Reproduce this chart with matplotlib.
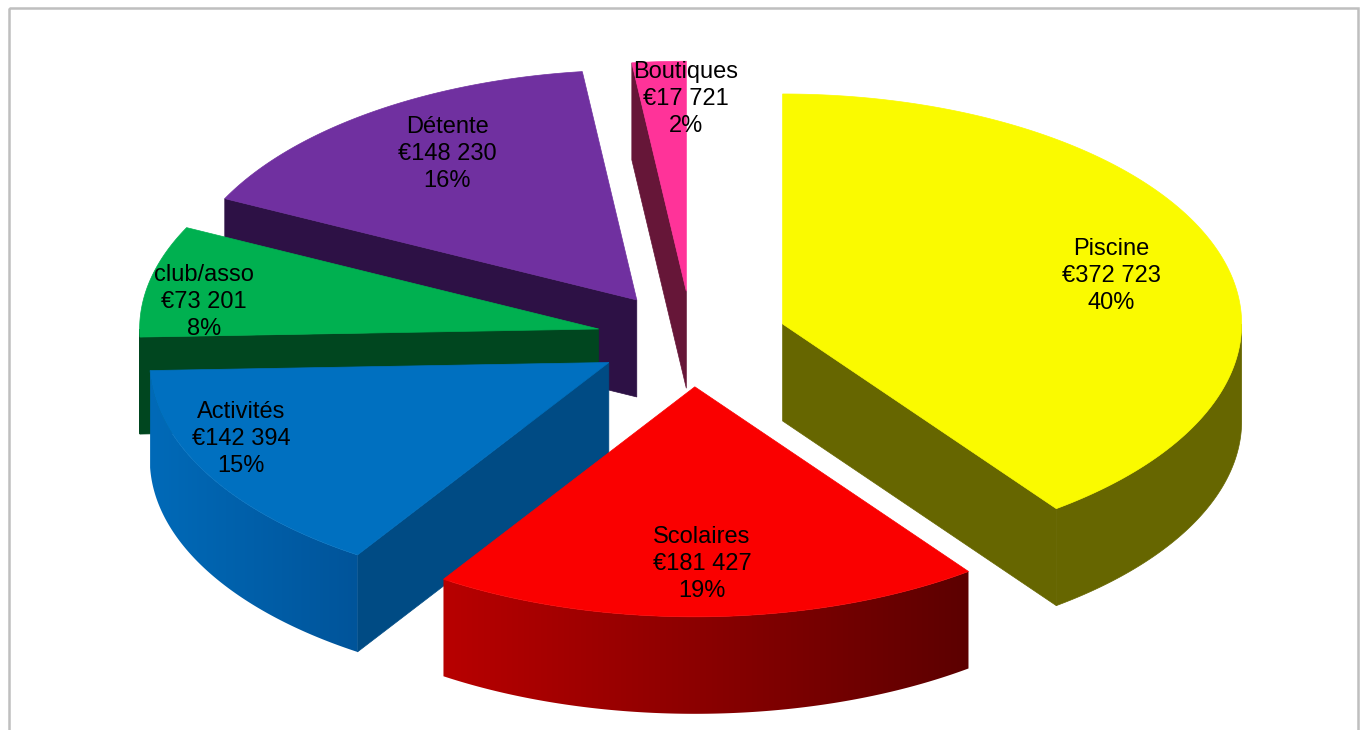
import matplotlib
matplotlib.use("Agg")
import matplotlib.pyplot as plt
from matplotlib.patches import Polygon, Rectangle
from matplotlib.colors import to_rgb
import numpy as np

# Recettes par secteur (en euros)
categories = ["Piscine", "Scolaires", "Activités", "club/asso", "Détente", "Boutiques"]
values = [372723, 181427, 142394, 73201, 148230, 17721]

# Couleurs : dessus, paroi radiale, dégradé de la paroi extérieure (gauche -> droite)
top_colors = ["#FAFA00", "#FA0000", "#0070C0", "#00B050", "#7030A0", "#FF3399"]
side_colors = ["#666600", "#6A0000", "#004B84", "#00461F", "#2D1145", "#661638"]
outer_grad = [("#666600", "#666600"), ("#B80000", "#5C0000"), ("#006AB8", "#00549A"),
              ("#00461F", "#00461F"), ("#2D1145", "#2D1145"), ("#661638", "#661638")]

# Position des étiquettes (pixels)
label_pos = [(1111, 276), (702, 564), (241, 439), (204, 302), (447, 154), (686, 99)]

# Géométrie du camembert 3D (pixels)
cx, cy = 692, 339      # centre commun
ra, rb = 459, 230      # demi-axes de l'ellipse
depth = 97             # épaisseur
explode = 0.208

W, H = 1366, 730
fig = plt.figure(figsize=(W / 100, H / 100), dpi=100)
ax = fig.add_axes([0, 0, 1, 1])
ax.set_xlim(0, W)
ax.set_ylim(H, 0)
ax.axis("off")

total = sum(values)
fracs = np.array(values) / total
ends = np.cumsum(fracs) * 360
starts = ends - fracs * 360
mids = (starts + ends) / 2

offs = [(explode * ra * np.sin(np.radians(m)), -explode * rb * np.cos(np.radians(m))) for m in mids]


def pt(i, th, r=1.0, z=0.0):
    t = np.radians(th)
    return (cx + offs[i][0] + r * ra * np.sin(t), cy + offs[i][1] - r * rb * np.cos(t) + z)


def arc(i, t1, t2, z=0.0, n=200):
    return [pt(i, t, 1.0, z) for t in np.linspace(t1, t2, n)]


# parois : (clé de profondeur, points, couleur gauche, couleur droite)
walls = []
for i in range(len(values)):
    t1, t2 = starts[i], ends[i]
    apex_t, apex_b = pt(i, 0, 0), pt(i, 0, 0, depth)
    # paroi radiale de début
    if np.sin(np.radians(t1)) < -1e-6:
        e_t, e_b = pt(i, t1), pt(i, t1, 1, depth)
        pts = [apex_t, e_t, e_b, apex_b]
        walls.append(((apex_t[1] + e_t[1]) / 2, pts, side_colors[i], side_colors[i]))
    # paroi radiale de fin
    if np.sin(np.radians(t2)) > 1e-6:
        e_t, e_b = pt(i, t2), pt(i, t2, 1, depth)
        pts = [apex_t, e_t, e_b, apex_b]
        walls.append(((apex_t[1] + e_t[1]) / 2, pts, side_colors[i], side_colors[i]))
    # paroi extérieure visible
    lo, hi = max(t1, 90), min(t2, 270)
    if hi > lo:
        top = arc(i, lo, hi)
        bot = arc(i, hi, lo, depth)
        pts = top + bot
        key = np.mean([p[1] for p in top])
        walls.append((key, pts, *outer_grad[i]))

walls.sort(key=lambda w: w[0])
for k, (key, pts, c1, c2) in enumerate(walls):
    z = 1 + k * 0.01
    if c1 == c2:
        ax.add_patch(Polygon(pts, closed=True, facecolor=c1, edgecolor=c1, lw=0.5, zorder=z))
    else:
        xs = [p[0] for p in pts]
        ys = [p[1] for p in pts]
        x0, x1 = min(xs), max(xs)
        grad = np.linspace(0, 1, 256)[None, :, None]
        img = (1 - grad) * np.array(to_rgb(c1)) + grad * np.array(to_rgb(c2))
        clip = Polygon(pts, closed=True, facecolor="none", edgecolor="none")
        ax.add_patch(clip)
        im = ax.imshow(img, extent=(x0, x1, max(ys), min(ys)), aspect="auto",
                       interpolation="bilinear", zorder=z)
        im.set_clip_path(clip)

# faces supérieures
for i in range(len(values)):
    pts = [pt(i, 0, 0)] + arc(i, starts[i], ends[i])
    ax.add_patch(Polygon(pts, closed=True, facecolor=top_colors[i], edgecolor=top_colors[i],
                         lw=0.5, zorder=5))

# étiquettes : nom, montant, pourcentage
for i, name in enumerate(categories):
    amount = f"€{values[i]:,}".replace(",", " ")
    pct = f"{round(100 * values[i] / total)}%"
    ax.text(*label_pos[i], f"{name}\n{amount}\n{pct}", ha="center", va="center",
            multialignment="center", fontsize=17, family="Liberation Sans",
            color="black", linespacing=1.3, zorder=10)

# cadre du graphique
ax.add_patch(Rectangle((8.5, 7.5), 1349, 740, facecolor="none", edgecolor="#BFBFBF",
                       lw=1.8, zorder=20, clip_on=False))

ax.set_xlim(0, W)
ax.set_ylim(H, 0)
fig.savefig("out.png", dpi=100)
